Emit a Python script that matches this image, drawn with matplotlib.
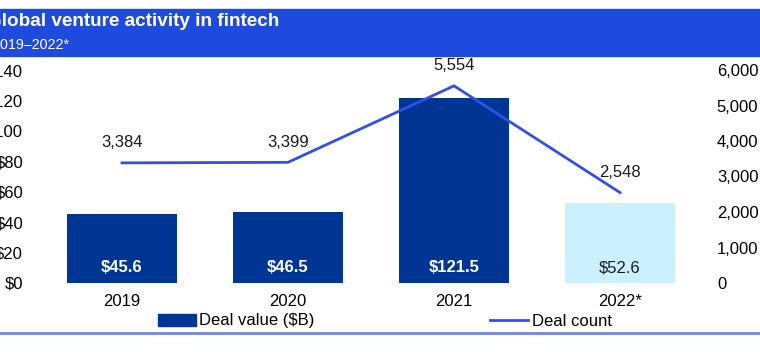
import matplotlib
matplotlib.use("Agg")
import matplotlib.pyplot as plt
from matplotlib.patches import Rectangle, Patch
from matplotlib.lines import Line2D

plt.rcParams['font.family'] = ['Liberation Sans', 'DejaVu Sans']

years = ['2019', '2020', '2021', '2022*']
deal_value = [45.6, 46.5, 121.5, 52.6]
deal_count = [3384, 3399, 5554, 2548]
value_labels = ['$45.6', '$46.5', '$121.5', '$52.6']
count_labels = ['3,384', '3,399', '5,554', '2,548']
left_ticks = [0, 20, 40, 60, 80, 100, 120, 140]
right_ticks = [0, 1000, 2000, 3000, 4000, 5000, 6000]

W, H = 760, 352
fs = 12
fig = plt.figure(figsize=(7.6, 3.52), dpi=100)

# header band
fig.add_artist(Rectangle((0, 1 - 56 / H), 1, 47 / H, transform=fig.transFigure,
                         color='#1f4ade', zorder=0))
fig.text(-13 / W, 1 - 22 / H, 'Global venture activity in fintech', color='white',
         fontsize=13.6, fontweight='bold', va='center', ha='left')
fig.text(-8 / W, 1 - 45 / H, '2019\u20132022*', color='white',
         fontsize=10.3, va='center', ha='left')
# bottom rule
fig.add_artist(Line2D([0, 1], [1 - 333 / H, 1 - 333 / H], transform=fig.transFigure,
                      color='#6f86e8', lw=2))

ax = fig.add_axes([39 / W, 69 / H, 664 / W, 213 / H])
x = range(len(years))
colors = ['#003594', '#003594', '#003594', '#cbf0ff']
ax.bar(x, deal_value, width=0.665, color=colors, zorder=1)
ax.set_xlim(-0.5, 3.5)
ax.set_ylim(0, 140)
ax.set_yticks(left_ticks)
ax.set_yticklabels(['$' + str(t) for t in left_ticks])
ax.set_xticks(list(x))
ax.set_xticklabels(years)
ax.tick_params(axis='y', length=0, pad=11.5, labelsize=fs)
ax.tick_params(axis='x', length=0, pad=8, labelsize=fs)
for s in ax.spines.values():
    s.set_visible(False)

for i, v in enumerate(deal_value):
    c = 'white' if i < 3 else '#1a1a1a'
    w = 'bold' if i < 3 else 'normal'
    ax.annotate(value_labels[i], (i, 0), xytext=(0, 15), textcoords='offset pixels',
                ha='center', va='center', color=c, fontweight=w, fontsize=fs)

ax2 = ax.twinx()
ax2.plot(list(x), deal_count, color='#3050e8', lw=2, zorder=3)
ax2.set_ylim(0, 6000)
ax2.set_yticks(right_ticks)
ax2.set_yticklabels([f'{t:,}' for t in right_ticks])
ax2.tick_params(axis='y', length=0, pad=10, labelsize=fs)
for s in ax2.spines.values():
    s.set_visible(False)
for i, v in enumerate(deal_count):
    ax2.annotate(count_labels[i], (i, v), xytext=(0, 20), textcoords='offset pixels',
                 ha='center', va='center', color='#1a1a1a', fontsize=fs)

handles = [Patch(color='#003594'), Line2D([], [], color='#3050e8', lw=2)]
fig.legend(handles[:1], ['Deal value ($B)'], loc='center left',
           bbox_to_anchor=(158 / W, 1 - 321 / H), frameon=False, fontsize=fs,
           handlelength=2.3, handletextpad=0.15, borderpad=0, borderaxespad=0)
fig.legend(handles[1:], ['Deal count'], loc='center left',
           bbox_to_anchor=(490 / W, 1 - 321 / H), frameon=False, fontsize=fs,
           handlelength=2.3, handletextpad=0.2, borderpad=0, borderaxespad=0)

fig.savefig('out.png', dpi=100)
